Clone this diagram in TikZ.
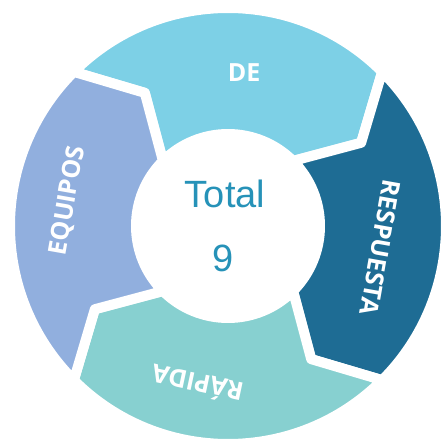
\documentclass[tikz,border=0pt]{standalone}
\usepackage{fontspec}
\setmainfont{Liberation Sans}
\newfontfamily\segfont{Open Sans}
\usepackage{tikz}
\usetikzlibrary{positioning}
\definecolor{segde}{RGB}{125,208,230}
\definecolor{segresp}{RGB}{30,108,148}
\definecolor{segrap}{RGB}{135,208,208}
\definecolor{segequip}{RGB}{145,175,222}
\definecolor{totalblue}{RGB}{38,146,184}

\begin{document}
\begin{tikzpicture}[x=1pt, y=1pt,
  seg/.style={draw=white, line width=10pt, line join=round},
  seglabel/.style={text=white, inner sep=0pt, font=\segfont\bfseries\fontsize{25}{25}\selectfont},
  centertext/.style={text=totalblue, inner sep=0pt, font=\fontsize{38}{38}\selectfont}]
\fill[white] (-228,-213) rectangle (217,226);
\useasboundingbox (-228,-213) rectangle (217,226);

% ring segments, each with its tip pointing clockwise
\filldraw[seg, fill=segde] (135:218) arc[start angle=135, end angle=45, radius=218] -- (32:157) -- (45:92) arc[start angle=45, end angle=135, radius=92] -- (122:157) -- cycle;
\filldraw[seg, fill=segresp] (45:218) arc[start angle=45, end angle=-45, radius=218] -- (-58:157) -- (-45:92) arc[start angle=-45, end angle=45, radius=92] -- (32:157) -- cycle;
\filldraw[seg, fill=segrap] (-45:218) arc[start angle=-45, end angle=-135, radius=218] -- (-148:157) -- (-135:92) arc[start angle=-135, end angle=-45, radius=92] -- (-58:157) -- cycle;
\filldraw[seg, fill=segequip] (225:218) arc[start angle=225, end angle=135, radius=218] -- (122:157) -- (135:92) arc[start angle=135, end angle=225, radius=92] -- (212:157) -- cycle;

\node[seglabel] (lblde) at (84:154) {DE};
\node[seglabel, rotate=-100] (lblresp) at (-8:154) {RESPUESTA};
\node[seglabel, rotate=168] (lblrap) at (-101:162) {RÁPIDA};
\node[seglabel, rotate=80] (lblequip) at (171:162) {EQUIPOS};

\node[centertext, anchor=base] (total) at (-3,18) {Total};
\node[centertext, anchor=base] (count) at (-5,-46) {9};
\end{tikzpicture}
\end{document}
